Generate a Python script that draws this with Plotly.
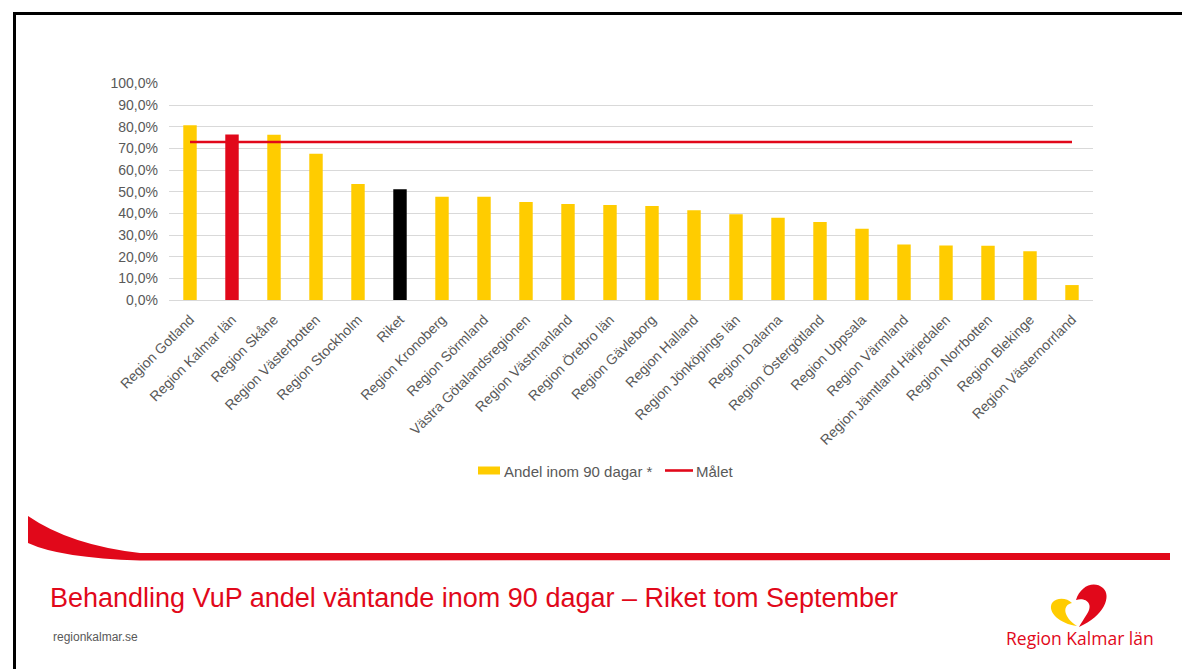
import plotly.graph_objects as go

W, H = 1182, 669

categories = [
    "Region Gotland", "Region Kalmar län", "Region Skåne", "Region Västerbotten",
    "Region Stockholm", "Riket", "Region Kronoberg", "Region Sörmland",
    "Västra Götalandsregionen", "Region Västmanland", "Region Örebro län",
    "Region Gävleborg", "Region Halland", "Region Jönköpings län", "Region Dalarna",
    "Region Östergötland", "Region Uppsala", "Region Värmland",
    "Region Jämtland Härjedalen", "Region Norrbotten", "Region Blekinge",
    "Region Västernorrland",
]
andel = [80.7, 76.4, 76.3, 67.6, 53.6, 51.1, 47.7, 47.7, 45.3, 44.3, 43.9,
         43.4, 41.4, 39.6, 38.0, 36.0, 32.9, 25.6, 25.2, 25.1, 22.5, 6.9]
malet = [73.0] * len(categories)
y_ticks = [0, 10, 20, 30, 40, 50, 60, 70, 80, 90, 100]
y_ticktext = [f"{v:.1f}".replace(".", ",") + "%" for v in y_ticks]

YELLOW = "#FFCC00"
RED = "#E1081A"
GRAY = "#595959"

bar_colors = [RED if c == "Region Kalmar län" else ("#000000" if c == "Riket" else YELLOW)
              for c in categories]


def px(x):
    return x / W


def py(y):
    return 1 - y / H


fig = go.Figure()
fig.add_trace(go.Bar(
    x=categories, y=andel, name="Andel inom 90 dagar *",
    marker=dict(color=bar_colors, line=dict(width=0)),
    showlegend=False,
))
fig.add_trace(go.Scatter(
    x=categories, y=malet, name="Målet", mode="lines",
    line=dict(color=RED, width=2.6),
    showlegend=False,
))

FONT = "Liberation Sans, Arial, sans-serif"

shapes = []
# slide border
shapes.append(dict(type="line", xref="paper", yref="paper",
                   x0=px(14.5), x1=1.02, y0=py(13.5), y1=py(13.5),
                   line=dict(color="#000000", width=3)))
shapes.append(dict(type="line", xref="paper", yref="paper",
                   x0=px(14.5), x1=px(14.5), y0=py(12), y1=-0.02,
                   line=dict(color="#000000", width=3)))

# red swoosh band
sw = (f"M {px(28)},{py(516)} "
      f"Q {px(70)},{py(545)} {px(140)},{py(553)} "
      f"L {px(1170)},{py(553)} L {px(1170)},{py(560)} L {px(140)},{py(560.5)} "
      f"Q {px(60)},{py(558)} {px(28)},{py(543)} Z")
shapes.append(dict(type="path", xref="paper", yref="paper", path=sw,
                   fillcolor=RED, line=dict(width=0)))

# logo: red right lobe
red_logo = (f"M {px(1079)},{py(627)} "
            f"C {px(1104)},{py(616)} {px(1112)},{py(596)} {px(1103)},{py(588)} "
            f"C {px(1094)},{py(580)} {px(1080)},{py(586)} {px(1076)},{py(600)} "
            f"C {px(1086)},{py(597)} {px(1094)},{py(604)} {px(1087)},{py(614)} "
            f"C {px(1084)},{py(619)} {px(1081)},{py(623)} {px(1079)},{py(627)} Z")
shapes.append(dict(type="path", xref="paper", yref="paper", path=red_logo,
                   fillcolor=RED, line=dict(width=0)))
# logo: yellow left lobe
yel_logo = (f"M {px(1077)},{py(626)} "
            f"C {px(1060)},{py(624)} {px(1047)},{py(612)} {px(1052)},{py(603)} "
            f"C {px(1057)},{py(597)} {px(1067)},{py(598)} {px(1072)},{py(603)} "
            f"C {px(1062)},{py(605)} {px(1063)},{py(617)} {px(1077)},{py(626)} Z")
shapes.append(dict(type="path", xref="paper", yref="paper", path=yel_logo,
                   fillcolor=YELLOW, line=dict(width=0)))

# legend (Excel-style): swatches
shapes.append(dict(type="rect", xref="paper", yref="paper",
                   x0=px(478), x1=px(500), y0=py(474.5), y1=py(466.5),
                   fillcolor=YELLOW, line=dict(width=0)))
shapes.append(dict(type="line", xref="paper", yref="paper",
                   x0=px(665), x1=px(693), y0=py(470.5), y1=py(470.5),
                   line=dict(color=RED, width=2.6)))

annotations = [
    dict(text="Andel inom 90 dagar *",
         xref="paper", yref="paper", x=px(502), y=py(471), xanchor="left", yanchor="middle",
         showarrow=False, font=dict(family=FONT, size=15, color=GRAY)),
    dict(text="Målet",
         xref="paper", yref="paper", x=px(694), y=py(471), xanchor="left", yanchor="middle",
         showarrow=False, font=dict(family=FONT, size=15, color=GRAY)),
    dict(text="Behandling VuP andel väntande inom 90 dagar – Riket tom September",
         xref="paper", yref="paper", x=px(48), y=py(598), xanchor="left", yanchor="middle",
         showarrow=False, font=dict(family=FONT, size=27, color=RED)),
    dict(text="regionkalmar.se",
         xref="paper", yref="paper", x=px(51), y=py(637), xanchor="left", yanchor="middle",
         showarrow=False, font=dict(family=FONT, size=12, color=GRAY)),
    dict(text="Region Kalmar län",
         xref="paper", yref="paper", x=px(1080), y=py(638), xanchor="center", yanchor="middle",
         showarrow=False, font=dict(family="Open Sans, Liberation Sans, sans-serif", size=17.5, color=RED)),
]

fig.update_layout(
    width=W, height=H,
    margin=dict(l=0, r=0, t=0, b=0),
    paper_bgcolor="white", plot_bgcolor="white",
    bargap=0.68,
    font=dict(family=FONT, size=14, color=GRAY),
    showlegend=False,
    xaxis=dict(domain=[px(169), px(1093)], tickangle=-45, automargin=False,
               showgrid=False, showline=True, linecolor="#D9D9D9", linewidth=1,
               ticks="", tickfont=dict(family=FONT, size=14, color=GRAY),
               ticklabelstandoff=5),
    yaxis=dict(domain=[py(300), py(83.5)], range=[0, 100],
               tickmode="array", tickvals=y_ticks, ticktext=y_ticktext,
               automargin=False,
               showgrid=True, gridcolor="#D9D9D9", gridwidth=1, zeroline=False,
               ticks="", ticklabelstandoff=10,
               tickfont=dict(family=FONT, size=14, color=GRAY)),
    shapes=shapes,
    annotations=annotations,
)

fig.write_html("out.html", config={"displayModeBar": False},
               post_script="document.body.style.margin='0';document.body.style.overflow='hidden';")
